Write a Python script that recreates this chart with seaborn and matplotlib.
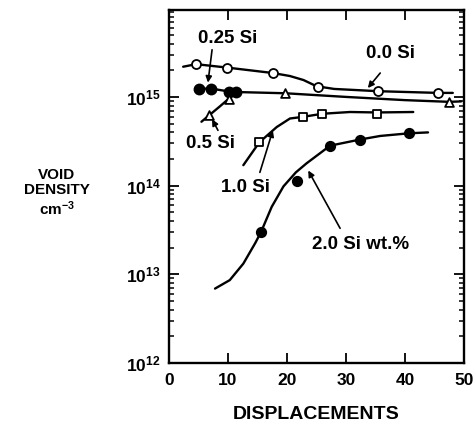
import numpy as np
import pandas as pd
import matplotlib
matplotlib.use("Agg")
import matplotlib.pyplot as plt
import matplotlib.ticker as mticker
import seaborn as sns

# ---------------- data ----------------
# 0.0 Si wt.% : open circles and hand-drawn fit curve
si00_x = [4.6, 9.9, 17.6, 25.2, 35.5, 45.6]
si00_y = [2.34e15, 2.14e15, 1.86e15, 1.29e15, 1.16e15, 1.11e15]
si00_cx = [2.4, 4.6, 9.9, 17.6, 20.5, 22.8, 25.0, 28.0, 35.5, 45.6, 48.1]
si00_cy = [2.19e15, 2.34e15, 2.14e15, 1.86e15, 1.72e15, 1.55e15, 1.32e15,
           1.23e15, 1.16e15, 1.11e15, 1.11e15]

# 0.25 Si wt.% : filled circles, shared flat curve
si025_x = [5.0, 7.2, 10.2, 11.4]
si025_y = [1.24e15, 1.24e15, 1.15e15, 1.14e15]
si025_cx = [5.0, 7.2, 10.2, 11.5, 19.7, 30.0, 40.0, 47.5, 49.5]
si025_cy = [1.24e15, 1.24e15, 1.15e15, 1.135e15, 1.10e15, 1.0e15, 9.2e14,
            8.8e14, 8.9e14]

# 0.5 Si wt.% : open triangles, rising branch
si05_x = [6.8, 10.1, 19.7, 47.5]
si05_y = [6.2e14, 9.5e14, 1.10e15, 8.8e14]
si05_cx = [5.5, 6.8, 8.6, 10.1, 11.5]
si05_cy = [5.25e14, 6.2e14, 7.8e14, 9.5e14, 1.135e15]

# 1.0 Si wt.% : open squares
si10_x = [15.3, 22.7, 26.0, 35.2]
si10_y = [3.07e14, 5.96e14, 6.46e14, 6.38e14]
si10_cx = [12.6, 15.3, 18.25, 20.5, 22.7, 26.0, 30.7, 35.2, 41.4]
si10_cy = [1.70e14, 3.07e14, 4.57e14, 5.71e14, 5.96e14, 6.46e14, 6.76e14,
           6.68e14, 6.76e14]

# 2.0 Si wt.% : filled circles
si20_x = [15.6, 21.7, 27.3, 32.4, 40.7]
si20_y = [3.0e13, 1.12e14, 2.82e14, 3.24e14, 3.89e14]
si20_cx = [7.8, 10.3, 12.6, 14.6, 15.6, 17.4, 19.4, 21.5, 23.3, 27.3, 32.4,
           35.8, 40.7, 43.9]
si20_cy = [6.9e12, 8.6e12, 1.32e13, 2.24e13, 3.0e13, 5.75e13, 9.8e13,
           1.41e14, 1.78e14, 2.82e14, 3.31e14, 3.63e14, 3.89e14, 3.98e14]

x_ticks = [0, 10, 20, 30, 40, 50]
y_major = [1e12, 1e13, 1e14, 1e15]

labels = ["0.25 Si", "0.0 Si", "0.5 Si", "1.0 Si", "2.0 Si wt.%"]

# ---------------- style ----------------
sns.set_style("ticks")
plt.rcParams["font.family"] = ["Liberation Sans", "DejaVu Sans"]
plt.rcParams["font.weight"] = "bold"
plt.rcParams["mathtext.fontset"] = "custom"
plt.rcParams["mathtext.rm"] = "Liberation Sans:bold"
plt.rcParams["mathtext.it"] = "Liberation Sans:bold"
plt.rcParams["mathtext.bf"] = "Liberation Sans:bold"
for key in ["text.color", "axes.labelcolor", "xtick.color", "ytick.color",
            "axes.edgecolor"]:
    plt.rcParams[key] = "black"

fig = plt.figure(figsize=(4.77, 4.26), dpi=100)
ax = fig.add_axes([169 / 477, 63 / 426, 295 / 477, 353 / 426])
ax.set_yscale("log")

LW = 1.7
curves = [(si00_cx, si00_cy), (si025_cx, si025_cy), (si05_cx, si05_cy),
          (si10_cx, si10_cy), (si20_cx, si20_cy)]
for cx, cy in curves:
    df = pd.DataFrame({"x": cx, "y": cy})
    sns.lineplot(data=df, x="x", y="y", ax=ax, color="black", lw=LW,
                 sort=False, estimator=None, zorder=2)

def marks(xs, ys, marker, filled, s):
    df = pd.DataFrame({"x": xs, "y": ys})
    sns.scatterplot(data=df, x="x", y="y", ax=ax, marker=marker, s=s,
                    color="black" if filled else "white",
                    edgecolor="black", linewidth=1.3, zorder=3)

marks(si00_x, si00_y, "o", False, 42)
marks(si025_x, si025_y, "o", True, 52)
marks(si05_x, si05_y, "^", False, 40)
marks(si10_x, si10_y, "s", False, 32)
marks(si20_x, si20_y, "o", True, 46)

# ---------------- annotations ----------------
fs_ann = 13.5
arrow = dict(arrowstyle="-|>", color="black", lw=1.2, mutation_scale=9,
             shrinkA=0, shrinkB=0)
ax.text(10.0, 4.5e15, labels[0], ha="center", va="center", fontsize=fs_ann,
        fontweight="bold")
ax.annotate("", xy=(6.6, 1.45e15), xytext=(7.3, 3.4e15), arrowprops=arrow)

ax.text(37.6, 3.1e15, labels[1], ha="center", va="center", fontsize=fs_ann,
        fontweight="bold")
ax.annotate("", xy=(33.7, 1.26e15), xytext=(35.8, 1.86e15), arrowprops=arrow)

ax.text(7.1, 3.0e14, labels[2], ha="center", va="center", fontsize=fs_ann,
        fontweight="bold")
ax.annotate("", xy=(7.3, 5.6e14), xytext=(8.3, 4.2e14), arrowprops=arrow)

ax.text(12.9, 9.6e13, labels[3], ha="center", va="center", fontsize=fs_ann,
        fontweight="bold")
ax.annotate("", xy=(17.6, 4.2e14), xytext=(15.4, 1.41e14), arrowprops=arrow)

ax.text(32.5, 2.15e13, labels[4], ha="center", va="center", fontsize=fs_ann,
        fontweight="bold")
ax.annotate("", xy=(23.6, 1.48e14), xytext=(29.0, 3.3e13), arrowprops=arrow)

# ---------------- axes ----------------
ax.set_xlim(0, 50)
ax.set_ylim(1e12, 10 ** 15.98)
ax.set_xticks(x_ticks)
ax.set_xticklabels([str(t) for t in x_ticks])
ax.yaxis.set_major_locator(mticker.FixedLocator(y_major))
ax.yaxis.set_major_formatter(
    mticker.FuncFormatter(lambda v, p: r"$10^{%d}$" % int(round(np.log10(v)))))
ax.yaxis.set_minor_locator(mticker.LogLocator(base=10, subs=np.arange(2, 10)))
ax.yaxis.set_minor_formatter(mticker.NullFormatter())

ax.tick_params(axis="both", which="major", direction="in", length=7,
               width=1.3, top=True, right=True, labelsize=12.5,
               colors="black")
ax.tick_params(axis="y", which="minor", direction="in", length=3.5,
               width=1.1, right=True, left=True, colors="black")
ax.tick_params(axis="x", which="major", pad=7)
ax.tick_params(axis="y", which="major", pad=6)
for lab in ax.get_xticklabels() + ax.get_yticklabels():
    lab.set_fontweight("bold")

for sp in ax.spines.values():
    sp.set_linewidth(1.7)
    sp.set_color("black")
    sp.set_visible(True)

ax.set_xlabel("DISPLACEMENTS", fontsize=14, fontweight="bold")
ax.xaxis.set_label_coords(0.5, -0.122)
ax.set_ylabel("VOID\nDENSITY\ncm$^{-3}$", rotation=0, fontsize=11,
              fontweight="bold", ha="center", va="center", linespacing=1.15)
ax.yaxis.set_label_coords(-0.38, 0.482)

fig.savefig("out.png", dpi=100)
